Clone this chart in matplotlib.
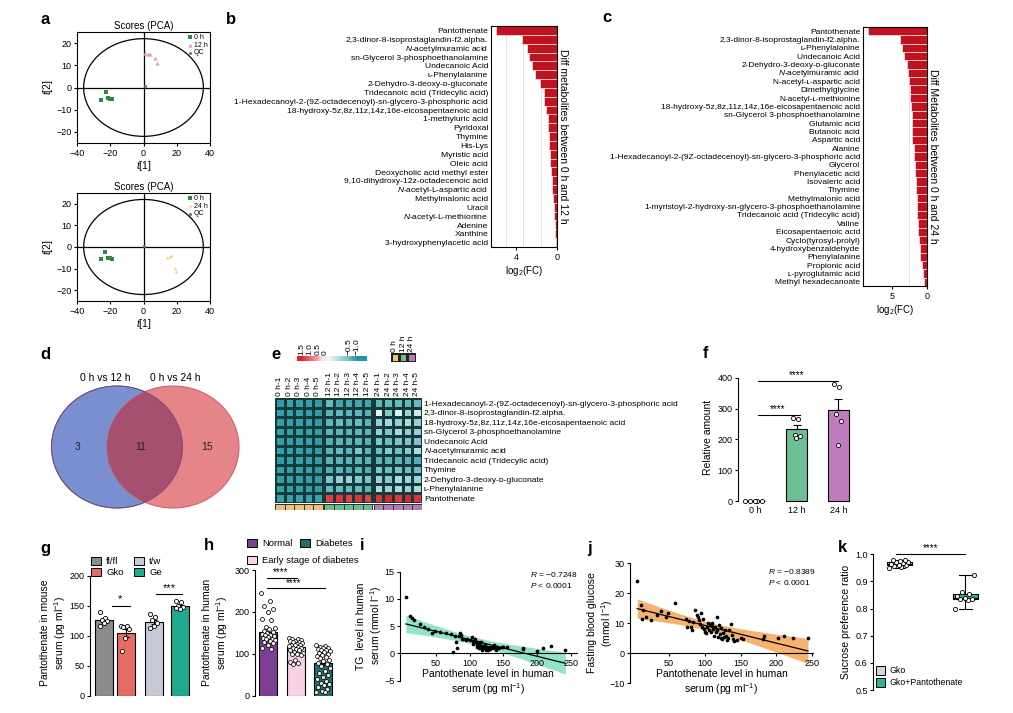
import matplotlib.pyplot as plt
import numpy as np
from matplotlib.patches import Ellipse, Patch
from matplotlib.colors import LinearSegmentedColormap, ListedColormap

# === Data ===
# a) PCA score plots
pca1_0h_x = [-22.7, -25.7, -21.5, -20.3, -18.9]
pca1_0h_y = [-2.1, -5.6, -4.8, -5.0, -5.3]
pca1_12h_x = [1.0, 2.5, 3.8, 6.9, 8.4]
pca1_12h_y = [15.5, 15.2, 15.0, 13.4, 11.1]
pca1_qc = [0.7, 0.5]
pca2_0h_x = [-23.2, -25.6, -21.6, -20.2, -19.2]
pca2_0h_y = [-2.1, -5.4, -4.9, -5.1, -5.4]
pca2_24h_x = [14.1, 15.7, 16.4, 19.1, 19.5]
pca2_24h_y = [-5.1, -4.6, -4.3, -10.3, -11.8]
pca2_qc = [0.6, 0.4]

# b) log2(FC), 0 h vs 12 h
b_names = ["Pantothenate", "2,3-dinor-8-isoprostaglandin-f2.alpha.", "$N$-acetylmuramic acid",
           "sn-Glycerol 3-phosphoethanolamine", "Undecanoic Acid", "ʟ-Phenylalanine",
           "2-Dehydro-3-deoxy-ᴅ-gluconate", "Tridecanoic acid (Tridecylic acid)",
           "1-Hexadecanoyl-2-(9Z-octadecenoyl)-sn-glycero-3-phosphoric acid",
           "18-hydroxy-5z,8z,11z,14z,16e-eicosapentaenoic acid", "1-methyluric acid", "Pyridoxal",
           "Thymine", "His-Lys", "Myristic acid", "Oleic acid", "Deoxycholic acid methyl ester",
           "9,10-dihydroxy-12z-octadecenoic acid", "$N$-acetyl-L-aspartic acid", "Methylmalonic acid",
           "Uracil", "$N$-acetyl-L-methionine", "Adenine", "Xanthine", "3-hydroxyphenylacetic acid"]
b_vals = [5.95, 3.38, 2.93, 2.70, 2.44, 2.11, 1.63, 1.30, 1.24, 1.04, 0.91, 0.88, 0.81, 0.78,
          0.72, 0.65, 0.59, 0.52, 0.46, 0.39, 0.33, 0.26, 0.23, 0.20, 0.13]

# c) log2(FC), 0 h vs 24 h
c_names = ["Pantothenate", "2,3-dinor-8-isoprostaglandin-f2.alpha.", "ʟ-Phenylalanine",
           "Undecanoic Acid", "2-Dehydro-3-deoxy-ᴅ-gluconate", "$N$-acetylmuramic acid",
           "N-acetyl-ʟ-aspartic acid", "Dimethylglycine", "N-acetyl-ʟ-methionine",
           "18-hydroxy-5z,8z,11z,14z,16e-eicosapentaenoic acid", "sn-Glycerol 3-phosphoethanolamine",
           "Glutamic acid", "Butanoic acid", "Aspartic acid", "Alanine",
           "1-Hexadecanoyl-2-(9Z-octadecenoyl)-sn-glycero-3-phosphoric acid", "Glycerol",
           "Phenylacetic acid", "Isovaleric acid", "Thymine", "Methylmalonic acid",
           "1-myristoyl-2-hydroxy-sn-glycero-3-phosphoethanolamine", "Tridecanoic acid (Tridecylic acid)",
           "Valine", "Eicosapentaenoic acid", "Cyclo(tyrosyl-prolyl)", "4-hydroxybenzaldehyde",
           "Phenylalanine", "Propionic acid", "ʟ-pyroglutamic acid", "Methyl hexadecanoate"]
c_vals = [8.43, 3.80, 3.57, 3.33, 2.80, 2.70, 2.57, 2.48, 2.38, 2.24, 2.19, 2.19, 2.14, 2.14,
          1.86, 1.81, 1.76, 1.71, 1.62, 1.52, 1.48, 1.43, 1.38, 1.29, 1.24, 1.19, 1.05, 0.95,
          0.67, 0.52, 0.38]

# d) Venn counts
venn_sets = ["0 h vs 12 h", "0 h vs 24 h"]
venn_counts = [3, 11, 15]

# e) heatmap (row z-scores)
heat_rows = ["1-Hexadecanoyl-2-(9Z-octadecenoyl)-sn-glycero-3-phosphoric acid",
             "2,3-dinor-8-isoprostaglandin-f2.alpha.",
             "18-hydroxy-5z,8z,11z,14z,16e-eicosapentaenoic acid",
             "sn-Glycerol 3-phosphoethanolamine", "Undecanoic Acid", "$N$-acetylmuramic acid",
             "Tridecanoic acid (Tridecylic acid)", "Thymine", "2-Dehydro-3-deoxy-ᴅ-gluconate",
             "ʟ-Phenylalanine", "Pantothenate"]
heat_groups = ["0 h", "12 h", "24 h"]
heat_cols = [f"{g}-{k}" for g in heat_groups for k in range(1, 6)]
heat_vals = [
    [-0.92, -0.85, -0.90, -0.90, -0.92, -0.55, -0.80, -0.78, -0.80, -0.82, -0.60, -0.55, -0.55, -0.58, -0.55],
    [-0.90, -0.88, -0.90, -0.90, -0.92, -0.62, -0.60, -0.62, -0.60, -0.65, -0.12, -0.42, -0.15, -0.35, -0.20],
    [-0.92, -0.88, -0.90, -0.90, -0.92, -0.62, -0.55, -0.60, -0.55, -0.62, -0.38, -0.32, -0.38, -0.30, -0.38],
    [-0.90, -0.88, -0.90, -0.90, -0.92, -0.62, -0.60, -0.62, -0.60, -0.62, -0.38, -0.45, -0.30, -0.38, -0.38],
    [-0.92, -0.88, -0.90, -0.90, -0.92, -0.70, -0.62, -0.62, -0.62, -0.65, -0.45, -0.50, -0.45, -0.45, -0.45],
    [-0.90, -0.88, -0.90, -0.90, -0.92, -0.62, -0.55, -0.62, -0.45, -0.62, -0.50, -0.42, -0.50, -0.42, -0.30],
    [-0.92, -0.88, -0.90, -0.90, -0.92, -0.62, -0.62, -0.62, -0.62, -0.62, -0.62, -0.62, -0.62, -0.62, -0.70],
    [-0.90, -0.88, -0.90, -0.90, -0.92, -0.70, -0.62, -0.70, -0.62, -0.70, -0.45, -0.50, -0.45, -0.50, -0.50],
    [-0.92, -0.88, -0.90, -0.90, -0.92, -0.45, -0.38, -0.35, -0.42, -0.45, -0.35, -0.42, -0.30, -0.35, -0.35],
    [-0.90, -0.88, -0.90, -0.90, -0.92, -0.55, -0.55, -0.55, -0.55, -0.60, -0.30, -0.35, -0.30, -0.35, -0.30],
    [-0.85, -0.85, -0.85, -0.85, -0.85, 1.30, 1.40, 1.30, 1.40, 1.30, 1.40, 1.50, 1.35, 1.50, 1.40],
]
cbar_ticks = ["1.5", "1.0", "0.5", "0", "−0.5", "−1.0"]
cbar_vals = [1.5, 1.0, 0.5, 0.0, -0.5, -1.0]

# f) relative amount of pantothenate
f_groups = ["0 h", "12 h", "24 h"]
f_mean = [0, 233, 295]
f_sem = [0, 13, 36]
f_dots = [[0, 0, 0, 0, 0], [268, 265, 213, 210, 206], [378, 370, 282, 259, 182]]

# g) mouse serum
g_groups = ["fl/fl", "Gko", "t/w", "Ge"]
g_mean = [126, 105, 123, 149]
g_sem = [3.5, 6.5, 3.5, 2.5]
g_dots = [[139, 130, 127, 125, 121, 116], [117, 116, 114, 111, 96, 75],
          [137, 131, 126, 122, 116, 113], [158, 156, 150, 148, 145, 146]]

# h) human serum
h_groups = ["Normal", "Early stage of diabetes", "Diabetes"]
h_mean = [152, 117, 78]
h_sem = [7, 3, 5.5]
h_dots = [
    [245, 225, 213, 208, 200, 182, 180, 165, 162, 158, 155, 152, 150, 148, 146, 145, 143, 140,
     138, 136, 135, 132, 130, 128, 125, 120, 115, 112],
    [138, 136, 135, 133, 131, 130, 128, 127, 125, 124, 122, 120, 120, 118, 116, 115, 113, 112,
     110, 108, 105, 103, 100, 100, 98, 85, 80, 78, 75],
    [120, 118, 117, 115, 113, 112, 110, 108, 106, 105, 103, 100, 98, 95, 92, 90, 85, 82, 78, 75,
     70, 65, 60, 55, 50, 45, 40, 35, 30, 28, 25, 20, 15, 12, 10, 8],
]

# i) TG vs pantothenate
i_x = [5.4, 11.4, 13.9, 17.8, 26.2, 32.2, 38.6, 44.6, 48.5, 56, 65, 73, 74.8, 78, 79.7, 80.7,
       84.7, 85.6, 87, 88, 90.6, 94.6, 95.5, 100.5, 103, 104.5, 105, 108, 109.4, 110.4, 111.4,
       113, 114, 115.3, 116.3, 118, 119, 120, 121, 123, 124, 125, 126.7, 127.7, 129, 130, 132.7,
       134, 136, 137.6, 139, 141, 144, 147.5, 150, 155, 178.7, 179.7, 200.5, 208.4, 220.8, 242]
i_y = [10.4, 6.9, 6.4, 6.2, 5.3, 4.9, 4.4, 3.8, 4.1, 4.0, 3.8, 3.5, 0.2, 3.2, 2.0, 1.0, 3.2,
       3.7, 3.35, 2.6, 2.7, 2.4, 2.7, 2.4, 3.0, 1.7, 2.3, 2.7, 2.0, 1.5, 1.2, 2.1, 0.9, 1.5, 2.1,
       1.1, 0.6, 1.3, 0.9, 1.6, 0.7, 1.2, 0.9, 0.6, 1.1, 0.8, 1.2, 0.9, 1.5, 1.1, 0.7, 1.2, 0.9,
       1.1, 1.2, 1.1, 0.8, 0.9, 0.5, 1.0, 1.3, 0.6]
i_stats = ["$R$ = −0.7248", "$P$ < 0.0001"]

# j) fasting glucose vs pantothenate
j_x = [6, 11, 14.3, 13.3, 18.9, 25.8, 33.6, 39.6, 45.5, 48.8, 59.3, 74, 75, 78.7, 81, 82.3, 84,
       87, 88.8, 90, 91.5, 93.4, 94.8, 96, 98, 99.4, 100.7, 101.7, 103.5, 105.3, 106, 107.2,
       108.6, 110, 110.9, 112.2, 113, 114.5, 115.5, 116.8, 117.8, 118.7, 120, 121, 122.4, 123.3,
       124.7, 125.6, 127, 128.3, 129.3, 130.6, 132.5, 133.9, 136.2, 137.5, 139.4, 140.8, 145.4,
       150, 153, 181, 182, 202, 210.7, 222.6, 244]
j_y = [24.2, 16.1, 14.4, 11.3, 12, 11.1, 12.8, 14.2, 12.2, 13.6, 16.9, 11.3, 8.7, 10.9, 8.9, 7.6,
       10.6, 14.4, 12.8, 12, 11.1, 9.8, 13.6, 8.9, 11.3, 8, 7.2, 6.7, 8.9, 10, 7.8, 9.7, 7.2, 9.1,
       10.2, 8, 5.8, 8.9, 7.2, 12, 7.8, 5.3, 9.4, 6.4, 5, 8.3, 4.7, 6.9, 5.3, 7.8, 5.8, 4.4, 5,
       7.6, 9.8, 6.1, 4.7, 4.2, 4.4, 5, 4.7, 4.8, 5.6, 5, 5.6, 5, 5]
j_stats = ["$R$ = −0.8389", "$P$ < 0.0001"]

# k) sucrose preference
k_groups = ["Gko", "Gko+Pantothenate"]
k_gko = [0.950, 0.955, 0.957, 0.960, 0.962, 0.965, 0.967, 0.970, 0.972, 0.975, 0.978, 0.980]
k_gko_p = [0.800, 0.830, 0.835, 0.836, 0.840, 0.845, 0.855, 0.860, 0.925]

# === Style ===
plt.rcParams.update({
    "font.family": ["Liberation Sans", "DejaVu Sans"],
    "mathtext.fontset": "custom",
    "mathtext.rm": "Liberation Sans",
    "mathtext.it": "Liberation Sans:italic",
    "mathtext.bf": "Liberation Sans:bold",
    "axes.linewidth": 0.8,
    "xtick.major.width": 0.8, "ytick.major.width": 0.8,
    "xtick.major.size": 2.5, "ytick.major.size": 2.5,
    "xtick.labelsize": 6.5, "ytick.labelsize": 6.5,
    "axes.labelsize": 7.5,
    "xtick.major.pad": 1.5, "ytick.major.pad": 1.5,
})

W, H = 1013, 713
fig = plt.figure(figsize=(W / 100, H / 100), dpi=100)


def add_ax(left, top, width, height):
    return fig.add_axes([left / W, 1 - (top + height) / H, width / W, height / H])


def panel_letter(x, y, s):
    fig.text(x / W, 1 - y / H, s, fontsize=12, fontweight="bold", ha="left", va="center")


def spread(n, half):
    # deterministic jitter for dot positions
    return (((np.arange(n) * 0.618034) % 1) - 0.5) * 2 * half


def clean(ax, bottom=False):
    for s in ["top", "right"]:
        ax.spines[s].set_visible(False)
    if not bottom:
        ax.spines["bottom"].set_visible(False)


def row_labels(ax, rows, names, size, shift):
    # baseline alignment keeps plain and mathtext labels level
    ax.set_yticks(np.asarray(rows) + shift, names, fontsize=size)
    for lbl in ax.get_yticklabels():
        lbl.set_verticalalignment("baseline")


# === a: PCA ===
def pca_panel(ax, x0, y0, xg, yg, glabel, gcolor, gmarker, qc):
    ax.add_patch(Ellipse((0, 0), 72, 44, fill=False, lw=0.9, color="black"))
    ax.axhline(0, color="black", lw=0.9)
    ax.axvline(0, color="black", lw=0.9)
    ax.scatter(x0, y0, marker="s", s=8, color="#2b8a3e", label="0 h", zorder=3, lw=0)
    ax.scatter(xg, yg, marker=gmarker, s=9, color=gcolor, label=glabel, zorder=3, lw=0)
    ax.scatter([qc[0]], [qc[1]], marker="o", s=5, color="#4f8a5d", label="QC", zorder=3, lw=0)
    ax.set_xlim(-40, 40)
    ax.set_ylim(-25, 25)
    ax.set_xticks([-40, -20, 0, 20, 40])
    ax.set_yticks([-20, -10, 0, 10, 20])
    ax.set_title("Scores (PCA)", fontsize=7, pad=2)
    ax.set_xlabel("$t$[1]", labelpad=1)
    ax.set_ylabel("$t$[2]", labelpad=1)
    ax.legend(loc="upper right", fontsize=5, frameon=False, handletextpad=0.1, borderpad=0.2,
              labelspacing=0.1, handlelength=1, borderaxespad=0.1)


ax = add_ax(77, 32, 133, 111)
pca_panel(ax, pca1_0h_x, pca1_0h_y, pca1_12h_x, pca1_12h_y, "12 h", "#d9a3c4", "^", pca1_qc)
ax = add_ax(77, 193, 133, 108)
pca_panel(ax, pca2_0h_x, pca2_0h_y, pca2_24h_x, pca2_24h_y, "24 h", "#f3c890", "*", pca2_qc)


# === b, c: fold-change bars ===
def fc_panel(ax, names, vals, xmax, major, minor, title, size):
    y = np.arange(len(names))
    ax.barh(y, vals, height=1.0, color="#c1121f", edgecolor="white", linewidth=0.4, zorder=2)
    ax.set_ylim(len(names) - 0.5, -0.5)
    ax.set_xlim(xmax, 0)
    row_labels(ax, y, names, size, 0.3)
    ax.tick_params(axis="y", length=0, pad=2)
    ax.set_xticks(major)
    ax.set_xticks(minor, minor=True)
    ax.tick_params(axis="x", which="minor", length=0)
    ax.grid(True, axis="x", which="minor", color="#dddddd", lw=0.6, zorder=0)
    ax.set_xlabel("log$_2$(FC)", fontsize=7, labelpad=2)
    ax.yaxis.set_label_position("right")
    ax.set_ylabel(title, rotation=-90, fontsize=7.5, labelpad=8)


ax = add_ax(491, 26, 66, 221)
fc_panel(ax, b_names, b_vals, 6.45, [4, 0], [1.6, 3.3, 5.0], "Diff metabolites between 0 h and 12 h", 6.1)
ax = add_ax(863, 27, 64, 259)
fc_panel(ax, c_names, c_vals, 9.1, [5, 0], [2.5, 5.0], "Diff Metabolites between 0 h and 24 h", 6.0)

# === d: Venn ===
ax = add_ax(35, 365, 225, 150)
ax.set_xlim(35, 260)
ax.set_ylim(515, 365)
ax.axis("off")
left_c = Ellipse((117, 447), 131, 122, facecolor="#7a8fd0", edgecolor="#5f74b8", lw=0.8)
right_c = Ellipse((173, 447), 132, 122, facecolor="#e5858a", edgecolor="#cf6468", lw=0.8)
ax.add_patch(left_c)
ax.add_patch(right_c)
lens = Ellipse((173, 447), 132, 122, facecolor="#a5506f", edgecolor="none")
ax.add_patch(lens)
lens.set_clip_path(left_c)
ax.add_patch(Ellipse((117, 447), 131, 122, fill=False, edgecolor="#7d4263", lw=0.6))
ax.text(105, 378, venn_sets[0], fontsize=7.4, ha="center", va="center")
ax.text(175, 378, venn_sets[1], fontsize=7.4, ha="center", va="center")
for xx, cnt in zip([78, 141, 207], venn_counts):
    ax.text(xx, 447, str(cnt), fontsize=7.5, ha="center", va="center", color="#222222")

# === e: heatmap ===
heat_cmap = LinearSegmentedColormap.from_list(
    "heat", [(0.0, "#2597a0"), (0.2, "#6cbfc1"), (0.36, "#eef8f8"), (0.48, "#fbe3e3"),
             (0.68, "#f08a8a"), (1.0, "#e0262d")])
gap = 0.18
widths = [1] * 5 + [gap] + [1] * 5 + [gap] + [1] * 5
edges = np.concatenate([[0], np.cumsum(widths)])
vals = np.array(heat_vals)
full = np.full((vals.shape[0], 17), np.nan)
full[:, 0:5] = vals[:, 0:5]
full[:, 6:11] = vals[:, 5:10]
full[:, 12:17] = vals[:, 10:15]
data_cols = [0, 1, 2, 3, 4, 6, 7, 8, 9, 10, 12, 13, 14, 15, 16]
centers = [(edges[i] + edges[i + 1]) / 2 for i in data_cols]

ax = add_ax(275, 398, 146.7, 104.5)
ax.pcolormesh(edges, np.arange(vals.shape[0] + 1), np.ma.masked_invalid(full), cmap=heat_cmap,
              vmin=-1.0, vmax=1.5, edgecolors="#163a3c", linewidth=0.8)
ax.set_xlim(0, edges[-1])
ax.set_ylim(vals.shape[0], 0)
for s in ax.spines.values():
    s.set_visible(False)
ax.yaxis.tick_right()
row_labels(ax, np.arange(vals.shape[0]) + 0.5, heat_rows, 6.1, 0.3)
ax.xaxis.tick_top()
ax.set_xticks(centers, heat_cols, rotation=90, fontsize=6)
ax.tick_params(length=0, pad=1.5)

# group annotation strip
group_colors = ["#f2c07d", "#6bbd8e", "#b27bb5"]
grp_idx = np.full((1, 17), np.nan)
for g in range(3):
    grp_idx[0, g * 6:g * 6 + 5] = g
ax = add_ax(275, 504, 146.7, 5.5)
ax.pcolormesh(edges, [0, 1], np.ma.masked_invalid(grp_idx), cmap=ListedColormap(group_colors),
              vmin=-0.5, vmax=2.5, edgecolors="#333333", linewidth=0.6)
ax.set_xlim(0, edges[-1])
ax.axis("off")

# colour key (non-linear positions as in the original)
cb_pos = [0.07, 0.18, 0.30, 0.40, 0.74, 0.86]
ax = add_ax(297, 356, 70, 5)
p = np.linspace(0, 1, 300)
grad = np.interp(p, cb_pos, cbar_vals)
ax.imshow(grad[None, :], cmap=heat_cmap, vmin=-1.0, vmax=1.5, aspect="auto", extent=[0, 1, 0, 1])
ax.xaxis.tick_top()
ax.set_xticks(cb_pos, cbar_ticks, rotation=90, fontsize=6)
ax.set_yticks([])
ax.tick_params(length=0, pad=1)
for s in ax.spines.values():
    s.set_visible(False)

# group key
ax = add_ax(390.7, 353, 25, 8.7)
ax.pcolormesh([0, 1, 2, 3], [0, 1], [[0, 1, 2]], cmap=ListedColormap(group_colors), vmin=-0.5,
              vmax=2.5, edgecolors="#222222", linewidth=0.8)
ax.xaxis.tick_top()
ax.set_xticks([0.5, 1.5, 2.5], heat_groups, rotation=90, fontsize=6)
ax.set_yticks([])
ax.tick_params(length=0, pad=1)
for s in ax.spines.values():
    s.set_visible(False)

# === f: relative amount ===
f_colors = ["white", "#6cbf93", "#c07bbf"]
ax = add_ax(738, 371.5, 122, 132)
xf = np.arange(len(f_groups))
ax.bar(xf, f_mean, width=0.5, color=f_colors, edgecolor="black", linewidth=0.8, zorder=2)
ax.errorbar(xf, f_mean, yerr=[np.zeros(3), f_sem], fmt="none", ecolor="black", elinewidth=0.8,
            capsize=3, capthick=0.8, zorder=3)
for k, d in enumerate(f_dots):
    half = 0.24 if k == 0 else 0.1
    ax.scatter(k + spread(len(d), half), d, s=9, facecolor="white", edgecolor="black",
               linewidth=0.6, zorder=4, clip_on=False)
ax.plot([0.08, 2.0], [390, 390], color="black", lw=0.8)
ax.text(1.0, 392, "****", ha="center", va="bottom", fontsize=7)
ax.plot([0.08, 1.08], [280, 280], color="black", lw=0.8)
ax.text(0.55, 282, "****", ha="center", va="bottom", fontsize=7)
ax.set_ylim(-8, 420)
ax.set_xlim(-0.41, 2.52)
ax.set_yticks([0, 100, 200, 300, 400])
ax.set_xticks(xf, f_groups)
ax.tick_params(axis="x", length=0, pad=2)
clean(ax)
ax.spines["left"].set_bounds(0, 400)
ax.set_ylabel("Relative amount", labelpad=3)

# === g: mouse serum ===
g_colors = ["#8c8c8c", "#e56b63", "#c6c9d8", "#1fa98e"]
g_pos = [0, 1, 2.3, 3.5]
ax = add_ax(90, 569.7, 105, 126)
ax.bar(g_pos, g_mean, width=0.83, color=g_colors, edgecolor="black", linewidth=0.8, zorder=2)
ax.errorbar(g_pos, g_mean, yerr=g_sem, fmt="none", ecolor="black", elinewidth=0.8, capsize=2.5,
            capthick=0.8, zorder=3)
for xp, d in zip(g_pos, g_dots):
    ax.scatter(xp + spread(len(d), 0.2), d, s=9, facecolor="white", edgecolor="black",
               linewidth=0.6, zorder=4)
ax.plot([0.35, 1.2], [150, 150], color="black", lw=0.8)
ax.text(0.75, 152, "*", ha="center", va="bottom", fontsize=8)
ax.plot([2.4, 3.6], [169, 169], color="black", lw=0.8)
ax.text(3.0, 171, "***", ha="center", va="bottom", fontsize=8)
ax.set_ylim(0, 210)
ax.set_xlim(-0.645, 4.19)
ax.set_yticks([0, 50, 100, 150, 200])
ax.set_xticks([])
clean(ax)
ax.spines["left"].set_bounds(0, 200)
ax.set_ylabel("Pantothenate in mouse\nserum (pg ml$^{-1}$)")
ax.yaxis.set_label_coords(-0.21, 0.5)
g_handles = [Patch(facecolor=g_colors[i], edgecolor="black", lw=0.7, label=g_groups[i]) for i in [0, 1, 2, 3]]
fig.legend(handles=g_handles, loc="upper left", bbox_to_anchor=(91 / W, 1 - 557 / H), ncol=2,
           frameon=False, fontsize=6.8, handlelength=1.1, handleheight=0.9, columnspacing=1.1,
           handletextpad=0.5, labelspacing=0.2, borderaxespad=0, borderpad=0)

# === h: human serum ===
h_colors = ["#7d3f91", "#f7d1e4", "#1f6f6c"]
xh = np.arange(len(h_groups))
ax = add_ax(255, 570, 83, 125.7)
ax.bar(xh, h_mean, width=0.65, color=h_colors, edgecolor="black", linewidth=0.8, zorder=2)
ax.errorbar(xh, h_mean, yerr=h_sem, fmt="none", ecolor="black", elinewidth=0.8, capsize=2.5,
            capthick=0.8, zorder=3)
for k, d in enumerate(h_dots):
    ax.scatter(k + spread(len(d), 0.26), d, s=8, facecolor="white", edgecolor="black",
               linewidth=0.55, zorder=4)
ax.plot([-0.06, 1.03], [281, 281], color="black", lw=0.8)
ax.text(0.43, 283, "****", ha="center", va="bottom", fontsize=7)
ax.plot([-0.06, 2.06], [256, 256], color="black", lw=0.8)
ax.text(0.91, 258, "****", ha="center", va="bottom", fontsize=7)
ax.set_ylim(0, 300)
ax.set_xlim(-0.48, 2.53)
ax.set_yticks([0, 100, 200, 300])
ax.set_xticks([])
clean(ax)
ax.set_ylabel("Pantothenate in human\nserum (pg ml$^{-1}$)", labelpad=3)
h_handles = [Patch(facecolor=h_colors[i], edgecolor="black", lw=0.7, label=h_groups[i]) for i in range(3)]
fig.legend(handles=[h_handles[0], h_handles[2]], loc="upper left", bbox_to_anchor=(247 / W, 1 - 539 / H),
           ncol=2, frameon=False, fontsize=6.8, handlelength=1.1, handleheight=0.9, columnspacing=0.8,
           handletextpad=0.5, borderaxespad=0, borderpad=0)
fig.legend(handles=[h_handles[1]], loc="upper left", bbox_to_anchor=(247 / W, 1 - 556 / H),
           frameon=False, fontsize=6.8, handlelength=1.1, handleheight=0.9, handletextpad=0.5,
           borderaxespad=0, borderpad=0)


# === i, j: correlations ===
def fit_panel(ax, x, y, band_color, stats, sx, sy1, sy2):
    x = np.asarray(x, float)
    y = np.asarray(y, float)
    slope, intercept = np.polyfit(x, y, 1)
    xs = np.linspace(x.min(), x.max(), 200)
    yhat = intercept + slope * xs
    n = len(x)
    resid = y - (intercept + slope * x)
    s = np.sqrt(np.sum(resid ** 2) / (n - 2))
    hw = 2.4 * 1.96 * s * np.sqrt(1 / n + (xs - x.mean()) ** 2 / np.sum((x - x.mean()) ** 2))
    ax.fill_between(xs, yhat - hw, yhat + hw, color=band_color, lw=0, zorder=1)
    ax.plot(xs, yhat, color="black", lw=0.9, zorder=2)
    ax.scatter(x, y, s=7, color="black", zorder=3, lw=0)
    ax.spines["bottom"].set_position(("data", 0))
    clean(ax, bottom=True)
    ax.text(sx, sy1, stats[0], transform=ax.transAxes, fontsize=6, va="center")
    ax.text(sx, sy2, stats[1], transform=ax.transAxes, fontsize=6, va="center")
    ax.set_xticks([50, 100, 150, 200, 250])


ax = add_ax(400, 570, 176.7, 111.7)
fit_panel(ax, i_x, i_y, "#92e3c7", i_stats, 0.736, 0.964, 0.857)
ax.set_xlim(-3.4, 259)
ax.set_ylim(-5.2, 15.3)
ax.set_yticks([-5, 0, 5, 10, 15])
ax.spines["left"].set_bounds(-5, 15)
ax.set_xlabel("Pantothenate level in human\nserum (pg ml$^{-1}$)", labelpad=1)
ax.set_ylabel("TG  level in human\nserum (mmol l$^{-1}$)")
ax.yaxis.set_label_coords(-0.09, 0.5)

ax = add_ax(630, 561.7, 183, 122.3)
fit_panel(ax, j_x, j_y, "#f4b470", j_stats, 0.754, 0.916, 0.826)
ax.set_xlim(-4.1, 251)
ax.set_ylim(-10.25, 30.55)
ax.set_yticks([-10, 0, 10, 20, 30])
ax.spines["left"].set_bounds(-10, 30)
ax.set_xlabel("Pantothenate level in human\nserum (pg ml$^{-1}$)", labelpad=1)
ax.set_ylabel("Fasting blood glucose\n(mmol l$^{-1}$)")
ax.yaxis.set_label_coords(-0.08, 0.5)

# === k: sucrose preference ===
k_colors = ["#d4d4d4", "#2bb39a"]
ax = add_ax(873.3, 554.3, 127, 135.7)
bp = ax.boxplot([k_gko, k_gko_p], positions=[0, 1], widths=0.38, whis=(0, 100), patch_artist=True,
                showfliers=False, medianprops=dict(color="black", lw=0.8),
                whiskerprops=dict(color="black", lw=0.8), capprops=dict(color="black", lw=0.8),
                boxprops=dict(edgecolor="black", lw=0.8))
for patch, col in zip(bp["boxes"], k_colors):
    patch.set_facecolor(col)
for k, d in enumerate([k_gko, k_gko_p]):
    ax.scatter(k + spread(len(d), 0.15), d, s=9, facecolor="white", edgecolor="black",
               linewidth=0.6, zorder=4)
ax.plot([-0.05, 0.99], [1.001, 1.001], color="black", lw=0.8, clip_on=False)
ax.text(0.47, 1.006, "****", ha="center", va="bottom", fontsize=7)
ax.set_ylim(0.5, 1.0)
ax.set_xlim(-0.39, 1.53)
ax.set_yticks([0.5, 0.6, 0.7, 0.8, 0.9, 1.0])
ax.set_xticks([])
clean(ax)
ax.set_ylabel("Sucrose preference ratio", labelpad=3)
k_handles = [Patch(facecolor=k_colors[i], edgecolor="black", lw=0.7, label=k_groups[i]) for i in range(2)]
ax.legend(handles=k_handles, loc="lower left", bbox_to_anchor=(0.02, 0.02), frameon=False,
          fontsize=6.3, handlelength=1.1, handleheight=1.1, handletextpad=0.5, labelspacing=0.3,
          borderaxespad=0, borderpad=0)

# === Panel letters ===
for x, y, s in [(40, 19, "a"), (226, 19, "b"), (602, 17, "c"), (40, 354, "d"), (271, 354, "e"),
                (703, 353, "f"), (40, 548, "g"), (204, 546, "h"), (360, 546, "i"), (587, 548, "j"),
                (838, 548, "k")]:
    panel_letter(x, y, s)

fig.savefig("out.png", dpi=100, facecolor="white")
